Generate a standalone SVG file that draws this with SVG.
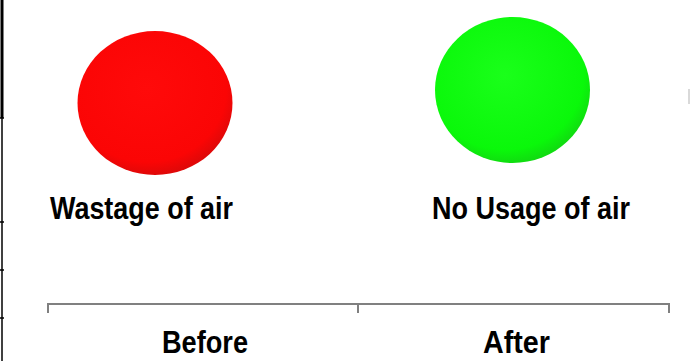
<svg xmlns="http://www.w3.org/2000/svg" width="690" height="361" viewBox="0 0 690 361">
<style>
.lbl{font-family:"Liberation Sans",Arial,sans-serif;font-weight:bold;font-size:31px;fill:#000}
.axis{stroke:#808080;stroke-width:2;fill:none}
.edge{stroke:#000;fill:none}
</style>
<defs>
<radialGradient id="gr" cx="0.45" cy="0.4" r="0.6">
<stop offset="0" stop-color="#ff0a0a"/>
<stop offset="0.85" stop-color="#fb0505"/>
<stop offset="1" stop-color="#e00808"/>
</radialGradient>
<radialGradient id="gg" cx="0.45" cy="0.4" r="0.6">
<stop offset="0" stop-color="#1aff1a"/>
<stop offset="0.85" stop-color="#0af80a"/>
<stop offset="1" stop-color="#10dd10"/>
</radialGradient>
</defs>
<rect width="690" height="361" fill="#fff"/>
<g id="frame">
<line class="edge" x1="2" y1="0" x2="2" y2="118" stroke-width="3"/>
<line class="edge" x1="2" y1="118" x2="2" y2="361" stroke-width="1.5"/>
<line class="edge" x1="0" y1="118" x2="4" y2="118" stroke-width="1.5"/>
<line class="edge" x1="0" y1="222" x2="4" y2="222" stroke-width="1.5"/>
<line class="edge" x1="0" y1="270" x2="4" y2="270" stroke-width="1.5"/>
<line class="edge" x1="0" y1="318" x2="4" y2="318" stroke-width="1.5"/>
<line x1="689" y1="89" x2="689" y2="104" stroke="#ccc" stroke-width="1.5"/>
</g>
<g id="before-node">
<ellipse cx="155" cy="103" rx="77.5" ry="72" fill="url(#gr)"/>
<text class="lbl" x="50" y="219" textLength="183" lengthAdjust="spacingAndGlyphs">Wastage of air</text>
</g>
<g id="after-node">
<ellipse cx="512.5" cy="90" rx="77.5" ry="73" fill="url(#gg)"/>
<text class="lbl" x="432" y="219" textLength="198" lengthAdjust="spacingAndGlyphs">No Usage of air</text>
</g>
<g id="connectors">
<path class="axis" d="M48,313 V304 H669 V313 M358,304 V313"/>
</g>
<g id="axis-labels">
<text class="lbl" x="162" y="353" textLength="86" lengthAdjust="spacingAndGlyphs">Before</text>
<text class="lbl" x="483" y="353" textLength="67" lengthAdjust="spacingAndGlyphs">After</text>
</g>
</svg>
